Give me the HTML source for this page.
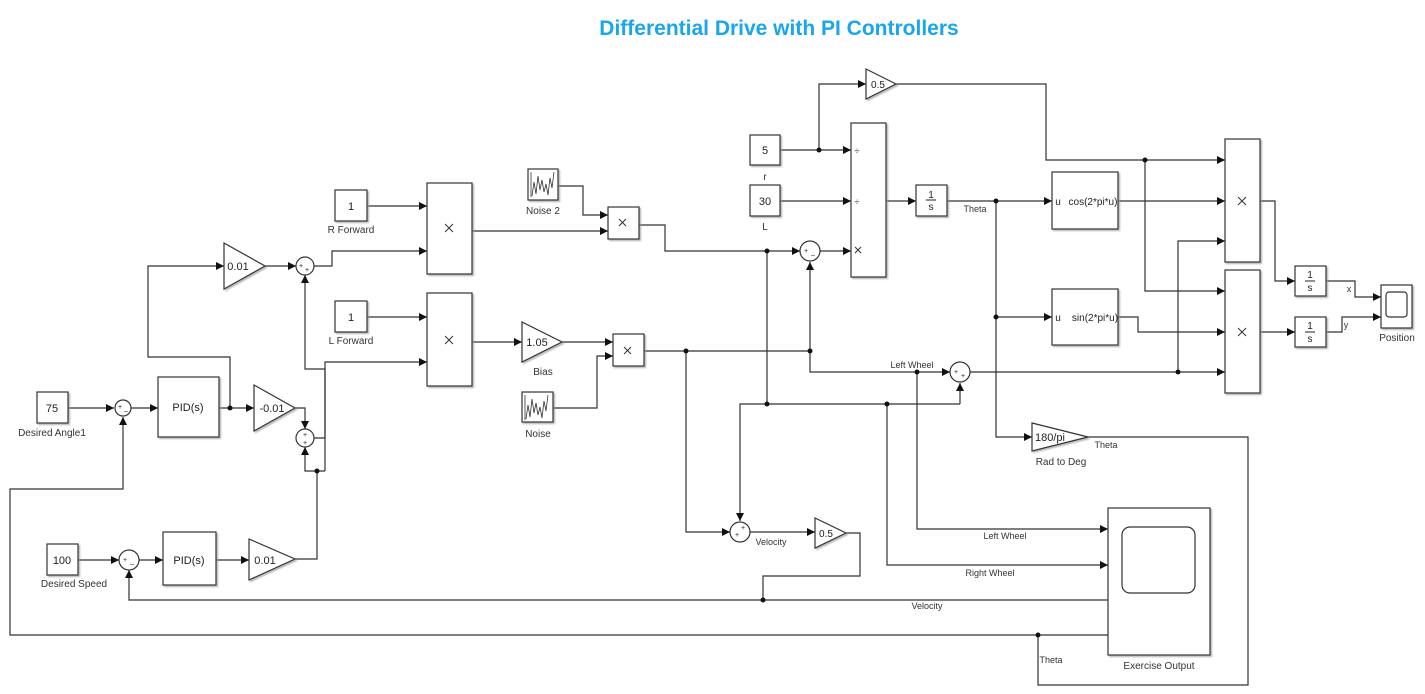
<!DOCTYPE html>
<html><head><meta charset="utf-8"><style>
html,body{margin:0;padding:0;background:#fff;}
svg{display:block;font-family:"Liberation Sans",Arial,sans-serif;}
</style></head><body>
<svg width="1425" height="694" viewBox="0 0 1425 694" xmlns="http://www.w3.org/2000/svg">
<defs>
<marker id="a" markerUnits="userSpaceOnUse" markerWidth="9" markerHeight="8" refX="8" refY="4" orient="auto"><path d="M0,0 L8,4 L0,8 z" fill="#111"/></marker>
<filter id="sh" x="-10%" y="-10%" width="130%" height="130%"><feDropShadow dx="1.5" dy="1.5" stdDeviation="0.8" flood-color="#999" flood-opacity="0.7"/></filter>
</defs>
<text x="779" y="35" text-anchor="middle" font-size="21" font-weight="bold" fill="#19a6ee">Differential Drive with PI Controllers</text>

<g fill="none" stroke="#333" stroke-width="1.2">
<polyline points="68,408 114,408" marker-end="url(#a)"/>
<polyline points="131,408 158,408" marker-end="url(#a)"/>
<polyline points="219,408 254,408" marker-end="url(#a)"/>
<polyline points="230,408 230,357 148,357 148,266 224,266" marker-end="url(#a)"/>
<polyline points="265,266 296,266" marker-end="url(#a)"/>
<polyline points="295,408 305,408 305,429" marker-end="url(#a)"/>
<polyline points="314,266 332,266 332,251 427,251" marker-end="url(#a)"/>
<polyline points="367,206 427,206" marker-end="url(#a)"/>
<polyline points="367,317 427,317" marker-end="url(#a)"/>
<polyline points="314,438 325,438 325,362 427,362" marker-end="url(#a)"/>
<polyline points="325,471 325,369 305,369 305,275" marker-end="url(#a)"/>
<polyline points="317,471 305,471 305,447" marker-end="url(#a)"/>
<polyline points="295,559 317,559 317,471 325,471"/>
<polyline points="78,560 119,560" marker-end="url(#a)"/>
<polyline points="139,560 163,560" marker-end="url(#a)"/>
<polyline points="216,560 249,560" marker-end="url(#a)"/>
<polyline points="1108,600 129,600 129,570" marker-end="url(#a)"/>
<polyline points="1108,635 10,635 10,489 123,489 123,417" marker-end="url(#a)"/>
<polyline points="472,231 608,231" marker-end="url(#a)"/>
<polyline points="558,186 583,186 583,215 608,215" marker-end="url(#a)"/>
<polyline points="639,225 665,225 665,251 800,251" marker-end="url(#a)"/>
<polyline points="820,251 851,251" marker-end="url(#a)"/>
<polyline points="780,150 851,150" marker-end="url(#a)"/>
<polyline points="819,150 819,84 866,84" marker-end="url(#a)"/>
<polyline points="780,201 851,201" marker-end="url(#a)"/>
<polyline points="886,201 916,201" marker-end="url(#a)"/>
<polyline points="947,201 1052,201" marker-end="url(#a)"/>
<polyline points="996,201 996,437 1032,437" marker-end="url(#a)"/>
<polyline points="996,317 1052,317" marker-end="url(#a)"/>
<polyline points="1088,437 1248,437 1248,685 1038,685 1038,635"/>
<polyline points="472,342 522,342" marker-end="url(#a)"/>
<polyline points="562,342 613,342" marker-end="url(#a)"/>
<polyline points="553,408 597,408 597,356 613,356" marker-end="url(#a)"/>
<polyline points="644,351 810,351 810,262" marker-end="url(#a)"/>
<polyline points="810,351 810,372 950,372" marker-end="url(#a)"/>
<polyline points="917,372 917,529 1108,529" marker-end="url(#a)"/>
<polyline points="767,251 767,404"/>
<polyline points="960,404 740,404 740,521" marker-end="url(#a)"/>
<polyline points="960,404 960,383" marker-end="url(#a)"/>
<polyline points="887,404 887,565 1108,565" marker-end="url(#a)"/>
<polyline points="686,351 686,532 730,532" marker-end="url(#a)"/>
<polyline points="750,532 815,532" marker-end="url(#a)"/>
<polyline points="846,533 860,533 860,576 763,576 763,600"/>
<polyline points="896,84 1046,84 1046,160 1225,160" marker-end="url(#a)"/>
<polyline points="1145,160 1145,291 1225,291" marker-end="url(#a)"/>
<polyline points="1118,201 1225,201" marker-end="url(#a)"/>
<polyline points="1178,372 1178,241 1225,241" marker-end="url(#a)"/>
<polyline points="1118,317 1138,317 1138,332 1225,332" marker-end="url(#a)"/>
<polyline points="970,372 1225,372" marker-end="url(#a)"/>
<polyline points="1260,201 1275,201 1275,281 1295,281" marker-end="url(#a)"/>
<polyline points="1260,332 1295,332" marker-end="url(#a)"/>
<polyline points="1326,281 1355,281 1355,297 1381,297" marker-end="url(#a)"/>
<polyline points="1326,332 1342,332 1342,317 1381,317" marker-end="url(#a)"/>
</g>

<g fill="#111">
<circle cx="230" cy="408" r="2.5"/><circle cx="317" cy="471" r="2.5"/>
<circle cx="763" cy="600" r="2.5"/><circle cx="1038" cy="635" r="2.5"/>
<circle cx="767" cy="251" r="2.5"/><circle cx="819" cy="150" r="2.5"/>
<circle cx="996" cy="201" r="2.5"/><circle cx="996" cy="317" r="2.5"/>
<circle cx="686" cy="351" r="2.5"/><circle cx="810" cy="351" r="2.5"/>
<circle cx="917" cy="372" r="2.5"/><circle cx="767" cy="404" r="2.5"/>
<circle cx="887" cy="404" r="2.5"/><circle cx="1145" cy="160" r="2.5"/>
<circle cx="1178" cy="372" r="2.5"/>
</g>

<g fill="#fff" stroke="#333" stroke-width="1.2" filter="url(#sh)">
<rect x="37" y="392" width="31" height="31"/>
<rect x="158" y="377" width="61" height="60"/>
<polygon points="254,385 295,408 254,431"/>
<polygon points="224,243 265,266 224,289"/>
<rect x="335" y="190" width="32" height="31"/>
<rect x="335" y="301" width="32" height="31"/>
<rect x="427" y="183" width="45" height="91"/>
<rect x="427" y="293" width="45" height="93"/>
<rect x="47" y="544" width="31" height="31"/>
<rect x="163" y="532" width="53" height="53"/>
<polygon points="249,539 295,559 249,580"/>
<rect x="528" y="169" width="30" height="31"/>
<rect x="608" y="207" width="31" height="32"/>
<rect x="750" y="135" width="30" height="30"/>
<rect x="750" y="185" width="30" height="31"/>
<rect x="851" y="123" width="35" height="154"/>
<polygon points="866,69 896,84 866,99"/>
<rect x="916" y="185" width="31" height="31"/>
<rect x="1052" y="172" width="66" height="57"/>
<rect x="1052" y="289" width="66" height="56"/>
<polygon points="1032,423 1088,437 1032,451"/>
<rect x="1225" y="139" width="35" height="123"/>
<rect x="1225" y="270" width="35" height="123"/>
<rect x="1295" y="266" width="31" height="30"/>
<rect x="1295" y="317" width="31" height="30"/>
<rect x="1381" y="285" width="31" height="43"/>
<polygon points="522,322 562,342 522,362"/>
<rect x="613" y="334" width="31" height="32"/>
<rect x="522" y="392" width="31" height="30"/>
<polygon points="815,518 846,533 815,548"/>
<rect x="1108" y="508" width="102" height="147"/>
</g>
<g fill="#fff" stroke="#333" stroke-width="1.2">
<circle cx="123" cy="408" r="8"/>
<circle cx="305" cy="266" r="9"/>
<circle cx="305" cy="438" r="9"/>
<circle cx="129" cy="560" r="10"/>
<circle cx="810" cy="251" r="10"/>
<circle cx="960" cy="372" r="10"/>
<circle cx="740" cy="532" r="10"/>
<rect x="1122" y="527" width="73" height="66" rx="8"/>
<rect x="1386" y="292" width="21" height="25" rx="3"/>
</g>
<g fill="none" stroke="#333" stroke-width="0.8">
<polyline points="532,196 534,182 536,194 538,176 540,190 542,180 544,192 546,184 548,195 550,178 552,188 554,172"/>
<polyline points="526,419 528,405 530,417 532,399 534,413 536,403 538,415 540,407 542,418 544,401 546,411 548,395"/>
<line x1="531" y1="172" x2="531" y2="197"/><line x1="525" y1="395" x2="525" y2="420"/>
</g>
<g fill="none" stroke="#333" stroke-width="1">
<path d="M445,224 l8,8 M453,224 l-8,8"/>
<path d="M445,336 l8,8 M453,336 l-8,8"/>
<path d="M619,219 l7,7 M626,219 l-7,7"/>
<path d="M624,347 l7,7 M631,347 l-7,7"/>
<path d="M855,247 l6,6 M861,247 l-6,6"/>
<path d="M1238,197 l8,8 M1246,197 l-8,8"/>
<path d="M1238,328 l8,8 M1246,328 l-8,8"/>
</g>

<g font-size="11" fill="#222" text-anchor="middle">
<text x="52" y="412">75</text>
<text x="188" y="411">PID(s)</text>
<text x="272" y="412">-0.01</text>
<text x="238" y="270">0.01</text>
<text x="351" y="210">1</text>
<text x="351" y="321">1</text>
<text x="62" y="564">100</text>
<text x="189" y="564">PID(s)</text>
<text x="265" y="564">0.01</text>
<text x="765" y="154">5</text>
<text x="765" y="205">30</text>
<text x="857" y="154" font-size="9">÷</text>
<text x="857" y="205" font-size="9">÷</text>
<text x="878" y="88" font-size="10">0.5</text>
<text x="931" y="198" font-size="10">1</text>
<line x1="926" y1="200" x2="936" y2="200" stroke="#222"/>
<text x="931" y="210" font-size="10">s</text>
<text x="1058" y="205" font-size="10">u</text>
<text x="1093" y="205" font-size="10">cos(2*pi*u)</text>
<text x="1058" y="321" font-size="10">u</text>
<text x="1095" y="321" font-size="10">sin(2*pi*u)</text>
<text x="1050" y="441">180/pi</text>
<text x="1310" y="278" font-size="10">1</text>
<line x1="1305" y1="281" x2="1315" y2="281" stroke="#222"/>
<text x="1310" y="291" font-size="10">s</text>
<text x="1310" y="329" font-size="10">1</text>
<line x1="1305" y1="332" x2="1315" y2="332" stroke="#222"/>
<text x="1310" y="342" font-size="10">s</text>
<text x="537" y="346">1.05</text>
<text x="826" y="537" font-size="10">0.5</text>
</g>
<g font-size="7" fill="#222" text-anchor="middle">
<text x="120" y="409">+</text><text x="126" y="413">–</text>
<text x="301" y="268">+</text><text x="307" y="272">+</text>
<text x="305" y="437">+</text><text x="305" y="445">+</text>
<text x="125" y="562">+</text><text x="132" y="566">–</text>
<text x="806" y="253">+</text><text x="813" y="257">–</text>
<text x="956" y="374">+</text><text x="963" y="378">+</text>
<text x="737" y="537">+</text><text x="743" y="530">+</text>
</g>
<g font-size="10" fill="#333" text-anchor="middle">
<text x="52" y="436">Desired Angle1</text>
<text x="351" y="233">R Forward</text>
<text x="351" y="344">L Forward</text>
<text x="74" y="587">Desired Speed</text>
<text x="543" y="214">Noise 2</text>
<text x="765" y="180">r</text>
<text x="765" y="230">L</text>
<text x="975" y="212" font-size="9">Theta</text>
<text x="1061" y="465">Rad to Deg</text>
<text x="1106" y="448" font-size="9">Theta</text>
<text x="1349" y="292" font-size="9">x</text>
<text x="1346" y="328" font-size="9">y</text>
<text x="1397" y="341">Position</text>
<text x="543" y="375">Bias</text>
<text x="538" y="437">Noise</text>
<text x="912" y="368" font-size="9">Left Wheel</text>
<text x="771" y="545" font-size="9">Velocity</text>
<text x="1005" y="539" font-size="9">Left Wheel</text>
<text x="990" y="576" font-size="9">Right Wheel</text>
<text x="927" y="609" font-size="9">Velocity</text>
<text x="1051" y="663" font-size="9">Theta</text>
<text x="1159" y="669">Exercise Output</text>
</g>
</svg>
</body></html>
